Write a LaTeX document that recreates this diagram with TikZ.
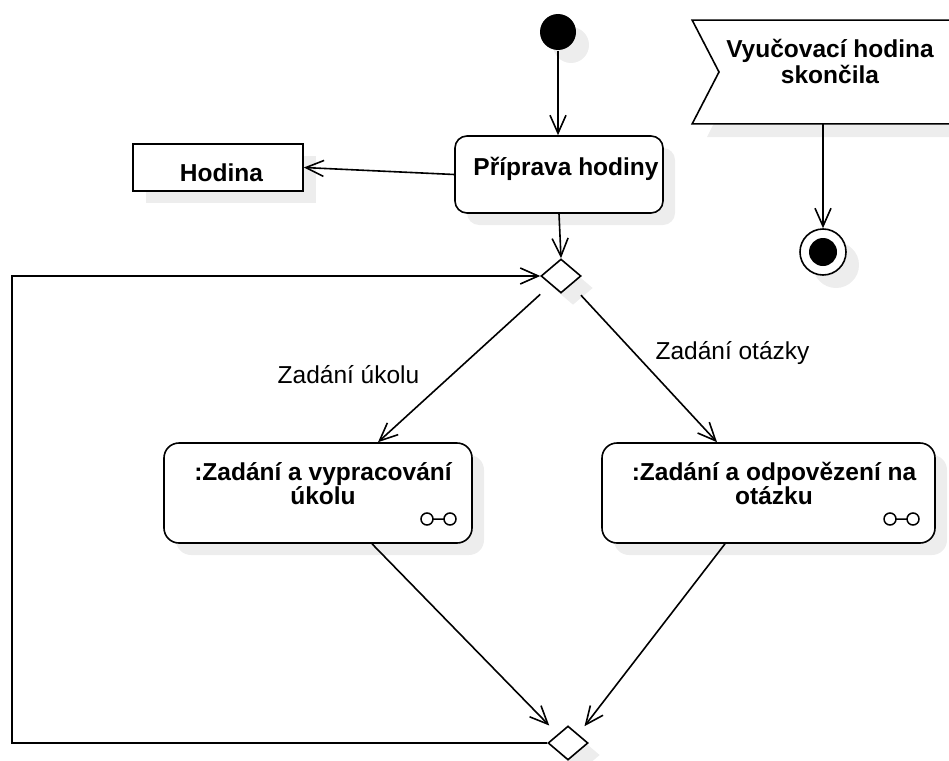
\documentclass[tikz,border=0pt]{standalone}
\usepackage{fontspec}
\setmainfont{Liberation Sans}
\usetikzlibrary{arrows.meta,shapes.geometric}
\begin{document}
\begin{tikzpicture}[x=1pt,y=-1pt,line width=1.6pt,
  shd/.style={fill=black!7,draw=none,inner sep=0pt},
  arr/.style={-{Straight Barb[length=18pt,width=16pt]}},
  boldtxt/.style={font=\fontsize{24.5}{24.5}\selectfont\bfseries,inner sep=0pt,anchor=base},
  normtxt/.style={font=\fontsize{24.5}{24.5}\selectfont,inner sep=0pt,anchor=base},
  actbox/.style={draw,fill=white,rounded corners=15pt,inner sep=0pt},
  objbox/.style={draw,fill=white,inner sep=0pt},
  decis/.style={draw,fill=white,diamond,inner sep=0pt,minimum width=40pt,minimum height=34pt},
  rake/.style={line width=1.5pt}
]
\useasboundingbox (0,0) rectangle (949,760);

% shadows
\node[shd,circle,minimum size=36pt] (startS) at (571,45) {};
\node[shd,rounded corners=12pt,minimum width=208pt,minimum height=77pt] (prepS) at (571,186.5) {};
\node[shd,minimum width=170pt,minimum height=47pt] (hodinaS) at (231,179.5) {};
\fill[black!7] (707,35) -- (733,86) -- (707,137) -- (949,137) -- (949,35) -- cycle;
\node[shd,circle,minimum size=46pt] (finalS) at (836,265) {};
\node[shd,diamond,minimum width=40pt,minimum height=34pt] (d1S) at (573,288) {};
\node[shd,rounded corners=15pt,minimum width=308pt,minimum height=100pt] (lboxS) at (330,505) {};
\node[shd,rounded corners=15pt,minimum width=333pt,minimum height=100pt] (rboxS) at (780.5,505) {};
\node[shd,diamond,minimum width=40pt,minimum height=34pt] (d2S) at (580,755) {};

% shapes
\node[circle,fill=black,minimum size=36pt,inner sep=0pt] (start) at (558,32) {};
\node[actbox,rounded corners=12pt,minimum width=208pt,minimum height=77pt] (prep) at (559,174.5) {};
\node[objbox,minimum width=170pt,minimum height=47pt] (hodina) at (218,167.5) {};
\node[inner sep=0pt,minimum width=256pt,minimum height=102pt] (ev) at (821,72) {};
\coordinate (notch) at (719,72);
\draw[fill=white] (ev.north east) -- (ev.north west) -- (notch) -- (ev.south west) -- (ev.south east);
\node[circle,draw,fill=white,minimum size=46pt,inner sep=0pt] (final) at (823,252) {};
\node[circle,fill=black,minimum size=28pt,inner sep=0pt] (finalin) at (final.center) {};
\node[decis] (d1) at (561,276) {};
\node[decis] (d2) at (568,743) {};
\node[actbox,minimum width=308pt,minimum height=100pt] (lbox) at (318,493) {};
\node[actbox,minimum width=333pt,minimum height=100pt] (rbox) at (768.5,493) {};

% texts
\node[boldtxt] (prept) at (566,175) {Příprava hodiny};
\node[boldtxt] (hodt) at (221.5,181.5) {Hodina};
\node[boldtxt] (evt1) at (830,58) {Vyučovací hodina};
\node[boldtxt] (evt2) at (830,83) {skončila};
\node[boldtxt] (lt1) at (323,480) {:Zadání a vypracování};
\node[boldtxt] (lt2) at (323,504) {úkolu};
\node[boldtxt] (rt1) at (774,480) {:Zadání a odpovězení na};
\node[boldtxt] (rt2) at (774,504) {otázku};
\node[normtxt] (lab1) at (348.5,383) {Zadání úkolu};
\node[normtxt] (lab2) at (732.5,359) {Zadání otázky};

% rake icons
\draw[rake] (427,519) circle (6pt) (450,519) circle (6pt) (433,519) -- (444,519);
\draw[rake] (890,519) circle (6pt) (913,519) circle (6pt) (896,519) -- (907,519);

% edges
\draw[arr] (start) -- (start |- prep.north);
\draw[arr] (prep.west) -- (hodina.east);
\draw[arr] (prep.south) -- (d1.north);
\draw[arr,shorten <=14pt] (d1.south west) -- ([xshift=60pt]lbox.north);
\draw[arr,shorten <=14pt] (d1.south east) -- ([xshift=-51.5pt]rbox.north);
\draw[arr,shorten >=12pt] ([xshift=54pt]lbox.south) -- (d2.north west);
\draw[arr,shorten >=10pt] ([xshift=-43.5pt]rbox.south) -- (d2.north east);
\coordinate (loopc) at (12,743);
\draw[arr] (d2.west) -- (loopc) |- (d1.west);
\draw[arr] (ev.south -| final) -- (final.north);
\end{tikzpicture}
\end{document}
